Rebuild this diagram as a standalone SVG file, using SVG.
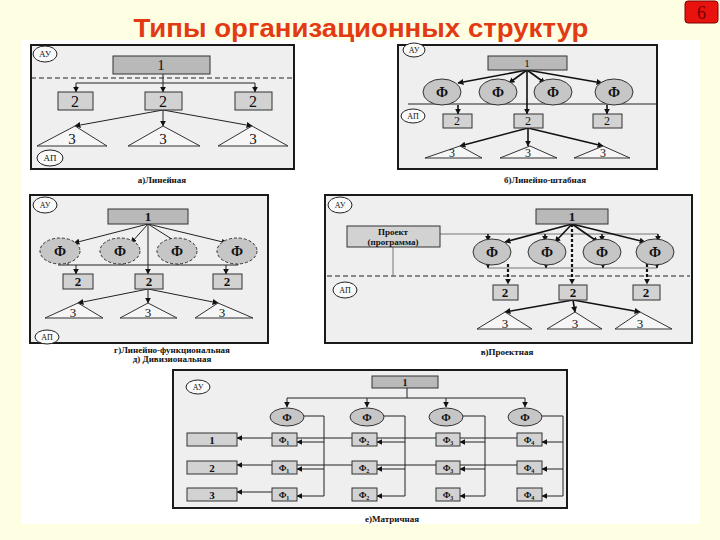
<svg xmlns="http://www.w3.org/2000/svg" width="720" height="540" viewBox="0 0 720 540">
<style>
.panel{fill:#efefef;stroke:#1a1a1a;stroke-width:2}
.b1{fill:#b9b9b9;stroke:#333;stroke-width:1}
.b2{fill:#d2d2d2;stroke:#333;stroke-width:1}
.tri{fill:#f6f6f6;stroke:#333;stroke-width:1}
.circ{fill:#c6c6c6;stroke:#333;stroke-width:1}
.circd{fill:#c6c6c6;stroke:#333;stroke-width:1;stroke-dasharray:3 2}
.zone{fill:#fafafa;stroke:#222;stroke-width:1}
.t{font-family:"Liberation Serif","DejaVu Serif",serif;text-anchor:middle;fill:#111}
.tb{font-family:"Liberation Serif","DejaVu Serif",serif;text-anchor:middle;fill:#111;font-weight:bold}
.cap{font-family:"Liberation Serif","DejaVu Serif",serif;text-anchor:middle;fill:#111;font-weight:bold;font-size:9px}
.e{stroke:#222;stroke-width:1;fill:none}
.ea{stroke:#222;stroke-width:1;fill:none;marker-end:url(#arr)}
.eb{stroke:#111;stroke-width:1.6;fill:none;marker-end:url(#arr)}
.ed{stroke:#111;stroke-width:2.2;fill:none;stroke-dasharray:3 2;marker-end:url(#arr)}
.dash{stroke:#222;stroke-width:1;fill:none;stroke-dasharray:5 3}
.g{stroke:#777;stroke-width:1;fill:none}
</style>
<defs>
<marker id="arr" viewBox="0 0 10 10" refX="9" refY="5" markerWidth="6" markerHeight="6" markerUnits="userSpaceOnUse" orient="auto">
<path d="M0,0 L10,5 L0,10 z" fill="#111"/>
</marker>
</defs>
<rect x="0" y="0" width="720" height="540" fill="#fefee3"/>
<rect x="22" y="40" width="678" height="484" fill="#ffffff"/>
<text x="361" y="37" font-family="'Liberation Sans',Arial,sans-serif" font-weight="bold" font-size="26" fill="#e23a12" text-anchor="middle" textLength="455" lengthAdjust="spacingAndGlyphs">Типы организационных структур</text>
<g id="page-number">
<rect x="685" y="1" width="33" height="22" rx="3" fill="#e8120f" stroke="#7a0000" stroke-width="1"/>
<text x="701.5" y="19" font-family="'Liberation Serif',serif" font-size="18" fill="#7a0000" text-anchor="middle">6</text>
</g>
<g id="panels">
<rect class="panel" x="31" y="45" width="263" height="124"/>
<rect class="panel" x="398" y="45" width="259" height="124"/>
<rect class="panel" x="30" y="195" width="238" height="148"/>
<rect class="panel" x="325" y="195" width="367" height="148"/>
<rect class="panel" x="173" y="370" width="394" height="138"/>
</g>
<g id="captions">
<text class="cap" x="162" y="183">а)Линейная</text>
<text class="cap" x="545" y="183">б)Линейно-штабная</text>
<text class="cap" x="172" y="353">г)Линейно-функциональная</text>
<text class="cap" x="172" y="362">д) Дивизиональная</text>
<text class="cap" x="507" y="355">в)Проектная</text>
<text class="cap" x="392" y="522">е)Матричная</text>
</g>
<g id="connectors">
<!-- panel a -->
<line class="dash" x1="31" y1="78" x2="294" y2="78"/>
<line class="ea" x1="163" y1="74" x2="163" y2="92"/>
<polyline class="e" points="76,91 76,83 255,83 255,91"/>
<line class="ea" x1="76" y1="86" x2="76" y2="92"/>
<line class="ea" x1="255" y1="86" x2="255" y2="92"/>
<line class="ea" x1="163" y1="110" x2="75" y2="126"/>
<line class="ea" x1="163" y1="110" x2="163" y2="126"/>
<line class="ea" x1="163" y1="110" x2="252" y2="126"/>
<!-- panel b -->
<line class="e" x1="408" y1="104" x2="657" y2="104" stroke-width="1.3"/>
<line class="eb" x1="527" y1="70" x2="458" y2="83"/>
<line class="eb" x1="527" y1="70" x2="509" y2="83"/>
<line class="eb" x1="527" y1="70" x2="545" y2="83"/>
<line class="eb" x1="527" y1="70" x2="602" y2="83"/>
<line class="eb" x1="527" y1="70" x2="527" y2="114"/>
<line class="eb" x1="458" y1="105" x2="458" y2="114"/>
<line class="eb" x1="607" y1="105" x2="607" y2="114"/>
<line class="eb" x1="528" y1="128" x2="460" y2="146"/>
<line class="eb" x1="528" y1="128" x2="528" y2="146"/>
<line class="eb" x1="528" y1="128" x2="603" y2="146"/>
<!-- panel g/d -->
<line class="ea" x1="148" y1="224" x2="74" y2="243"/>
<line class="ea" x1="148" y1="224" x2="131" y2="243"/>
<line class="ea" x1="148" y1="224" x2="178" y2="243"/>
<line class="ea" x1="148" y1="224" x2="227" y2="243"/>
<line class="ea" x1="148" y1="224" x2="148" y2="274"/>
<line class="e" x1="58" y1="265" x2="238" y2="265"/>
<line class="e" x1="68" y1="258" x2="68" y2="265"/>
<line class="e" x1="122" y1="258" x2="122" y2="265"/>
<line class="e" x1="178" y1="258" x2="178" y2="265"/>
<line class="e" x1="238" y1="258" x2="238" y2="265"/>
<line class="ea" x1="76" y1="265" x2="76" y2="274"/>
<line class="ea" x1="226" y1="265" x2="226" y2="274"/>
<line class="ea" x1="148" y1="289" x2="78" y2="303"/>
<line class="ea" x1="148" y1="289" x2="148" y2="303"/>
<line class="ea" x1="148" y1="289" x2="218" y2="303"/>
<!-- panel v project -->
<line class="dash" x1="327" y1="276" x2="690" y2="276" stroke="#555"/>
<line class="g" x1="440" y1="234" x2="658" y2="234"/>
<polyline class="g" points="393,247 393,276"/>
<line class="eb" x1="488" y1="234" x2="488" y2="241"/>
<line class="eb" x1="545" y1="234" x2="545" y2="241"/>
<line class="eb" x1="602" y1="234" x2="602" y2="241"/>
<line class="eb" x1="658" y1="234" x2="658" y2="241"/>
<line class="eb" x1="572" y1="224" x2="505" y2="242"/>
<line class="eb" x1="572" y1="224" x2="555" y2="242"/>
<line class="eb" x1="572" y1="224" x2="598" y2="242"/>
<line class="eb" x1="572" y1="224" x2="645" y2="242"/>
<line class="g" x1="488" y1="268" x2="657" y2="268"/>
<line class="ea" x1="488" y1="263" x2="488" y2="268"/>
<line class="ea" x1="546" y1="263" x2="546" y2="268"/>
<line class="ea" x1="603" y1="263" x2="603" y2="268"/>
<line class="ea" x1="657" y1="263" x2="657" y2="268"/>
<line class="ed" x1="572" y1="224" x2="572" y2="284"/>
<line class="ed" x1="508" y1="264" x2="508" y2="284"/>
<line class="ed" x1="647" y1="264" x2="647" y2="284"/>
<line class="eb" x1="573" y1="300" x2="505" y2="312"/>
<line class="eb" x1="573" y1="300" x2="575" y2="312"/>
<line class="eb" x1="573" y1="300" x2="640" y2="312"/>
<!-- panel e matrix -->
<line class="e" x1="407" y1="388" x2="407" y2="398"/>
<line class="e" x1="287" y1="398" x2="525" y2="398"/>
<line class="ea" x1="287" y1="398" x2="287" y2="407"/>
<line class="ea" x1="367" y1="398" x2="367" y2="407"/>
<line class="ea" x1="446" y1="398" x2="446" y2="407"/>
<line class="ea" x1="525" y1="398" x2="525" y2="407"/>
<line class="ea" x1="517" y1="438" x2="237" y2="438"/>
<line class="ea" x1="517" y1="465" x2="237" y2="465"/>
<line class="ea" x1="272" y1="492" x2="237" y2="492"/>
<polyline class="e" points="304,416 324,416 324,496"/>
<polyline class="e" points="384,416 405,416 405,496"/>
<polyline class="e" points="463,416 485,416 485,496"/>
<polyline class="e" points="542,416 563,416 563,496"/>
<line class="ea" x1="324" y1="442" x2="297" y2="442"/>
<line class="ea" x1="324" y1="469" x2="297" y2="469"/>
<line class="ea" x1="324" y1="496" x2="297" y2="496"/>
<line class="ea" x1="405" y1="442" x2="377" y2="442"/>
<line class="ea" x1="405" y1="469" x2="377" y2="469"/>
<line class="ea" x1="405" y1="496" x2="377" y2="496"/>
<line class="ea" x1="485" y1="442" x2="460" y2="442"/>
<line class="ea" x1="485" y1="469" x2="460" y2="469"/>
<line class="ea" x1="485" y1="496" x2="460" y2="496"/>
<line class="ea" x1="563" y1="442" x2="542" y2="442"/>
<line class="ea" x1="563" y1="469" x2="542" y2="469"/>
<line class="ea" x1="563" y1="496" x2="542" y2="496"/>
</g>
<!-- panel a nodes -->
<g id="a-au"><ellipse class="zone" cx="45" cy="54" rx="12" ry="8"/><text class="t" x="45" y="57" font-size="9">АУ</text></g>
<g id="a-1"><rect class="b1" x="113" y="56" width="97" height="18"/><text class="t" x="161" y="70" font-size="15">1</text></g>
<g id="a-2l"><rect class="b2" x="58" y="92" width="35" height="18"/><text class="t" x="75" y="107" font-size="16">2</text></g>
<g id="a-2m"><rect class="b2" x="145" y="92" width="37" height="18"/><text class="t" x="163" y="107" font-size="16">2</text></g>
<g id="a-2r"><rect class="b2" x="235" y="92" width="37" height="18"/><text class="t" x="253" y="107" font-size="16">2</text></g>
<g id="a-3l"><polygon class="tri" points="37,146 75,126 107,146"/><text class="t" x="72" y="144" font-size="15">3</text></g>
<g id="a-3m"><polygon class="tri" points="128,146 163,126 200,146"/><text class="t" x="163" y="144" font-size="15">3</text></g>
<g id="a-3r"><polygon class="tri" points="218,146 252,126 288,146"/><text class="t" x="253" y="144" font-size="15">3</text></g>
<g id="a-ap"><ellipse class="zone" cx="50" cy="158" rx="13" ry="8"/><text class="t" x="50" y="161" font-size="9">АП</text></g>
<!-- panel b nodes -->
<g id="b-au"><ellipse class="zone" cx="414" cy="50" rx="11" ry="7"/><text class="t" x="414" y="53" font-size="8">АУ</text></g>
<g id="b-1"><rect class="b1" x="488" y="56" width="79" height="14"/><text class="t" x="527" y="67" font-size="11">1</text></g>
<g id="b-f1"><ellipse class="circ" cx="442" cy="92" rx="19" ry="13"/><text class="tb" x="442" y="97" font-size="14">Ф</text></g>
<g id="b-f2"><ellipse class="circ" cx="498" cy="92" rx="19" ry="13"/><text class="tb" x="498" y="97" font-size="14">Ф</text></g>
<g id="b-f3"><ellipse class="circ" cx="553" cy="92" rx="19" ry="13"/><text class="tb" x="553" y="97" font-size="14">Ф</text></g>
<g id="b-f4"><ellipse class="circ" cx="614" cy="92" rx="19" ry="13"/><text class="tb" x="614" y="97" font-size="14">Ф</text></g>
<g id="b-ap"><ellipse class="zone" cx="413" cy="116" rx="12" ry="7"/><text class="t" x="413" y="119" font-size="8">АП</text></g>
<g id="b-2l"><rect class="b2" x="443" y="114" width="29" height="14"/><text class="t" x="457" y="125" font-size="12">2</text></g>
<g id="b-2m"><rect class="b2" x="514" y="114" width="29" height="14"/><text class="t" x="528" y="125" font-size="12">2</text></g>
<g id="b-2r"><rect class="b2" x="593" y="114" width="29" height="14"/><text class="t" x="607" y="125" font-size="12">2</text></g>
<g id="b-3l"><polygon class="tri" points="425,158 460,146 482,158"/><text class="t" x="452" y="157" font-size="12">3</text></g>
<g id="b-3m"><polygon class="tri" points="500,158 530,146 557,158"/><text class="t" x="528" y="157" font-size="12">3</text></g>
<g id="b-3r"><polygon class="tri" points="574,158 603,146 630,158"/><text class="t" x="603" y="157" font-size="12">3</text></g>
<!-- panel g/d nodes -->
<g id="g-au"><ellipse class="zone" cx="45" cy="205" rx="12" ry="8"/><text class="t" x="45" y="208" font-size="8">АУ</text></g>
<g id="g-1"><rect class="b1" x="108" y="209" width="80" height="15"/><text class="tb" x="148" y="221" font-size="13">1</text></g>
<g id="g-f1"><ellipse class="circd" cx="60" cy="251" rx="20" ry="13"/><text class="tb" x="60" y="256" font-size="14">Ф</text></g>
<g id="g-f2"><ellipse class="circd" cx="120" cy="251" rx="20" ry="13"/><text class="tb" x="120" y="256" font-size="14">Ф</text></g>
<g id="g-f3"><ellipse class="circd" cx="177" cy="251" rx="20" ry="13"/><text class="tb" x="177" y="256" font-size="14">Ф</text></g>
<g id="g-f4"><ellipse class="circd" cx="237" cy="251" rx="20" ry="13"/><text class="tb" x="237" y="256" font-size="14">Ф</text></g>
<g id="g-2l"><rect class="b2" x="63" y="274" width="30" height="15"/><text class="tb" x="78" y="286" font-size="13">2</text></g>
<g id="g-2m"><rect class="b2" x="135" y="274" width="28" height="15"/><text class="tb" x="149" y="286" font-size="13">2</text></g>
<g id="g-2r"><rect class="b2" x="213" y="274" width="29" height="15"/><text class="tb" x="227" y="286" font-size="13">2</text></g>
<g id="g-3l"><polygon class="tri" points="45,318 78,303 103,318"/><text class="t" x="73" y="317" font-size="13">3</text></g>
<g id="g-3m"><polygon class="tri" points="120,318 148,303 177,318"/><text class="t" x="148" y="317" font-size="13">3</text></g>
<g id="g-3r"><polygon class="tri" points="195,318 218,303 253,318"/><text class="t" x="222" y="317" font-size="13">3</text></g>
<g id="g-ap"><ellipse class="zone" cx="47" cy="337" rx="12" ry="7"/><text class="t" x="47" y="340" font-size="8">АП</text></g>
<!-- panel v project nodes -->
<g id="v-au"><ellipse class="zone" cx="340" cy="205" rx="12" ry="8"/><text class="t" x="340" y="208" font-size="8">АУ</text></g>
<g id="v-1"><rect class="b1" x="536" y="209" width="72" height="15"/><text class="tb" x="572" y="221" font-size="13">1</text></g>
<g id="v-project"><rect class="b2" x="347" y="226" width="93" height="21"/><text class="tb" x="393" y="235" font-size="9">Проект</text><text class="tb" x="393" y="245" font-size="9">(программа)</text></g>
<g id="v-f1"><ellipse class="circ" cx="492" cy="252" rx="19" ry="13"/><text class="tb" x="492" y="257" font-size="14">Ф</text></g>
<g id="v-f2"><ellipse class="circ" cx="547" cy="252" rx="19" ry="13"/><text class="tb" x="547" y="257" font-size="14">Ф</text></g>
<g id="v-f3"><ellipse class="circ" cx="602" cy="252" rx="19" ry="13"/><text class="tb" x="602" y="257" font-size="14">Ф</text></g>
<g id="v-f4"><ellipse class="circ" cx="655" cy="252" rx="19" ry="13"/><text class="tb" x="655" y="257" font-size="14">Ф</text></g>
<g id="v-ap"><ellipse class="zone" cx="345" cy="290" rx="12" ry="8"/><text class="t" x="345" y="293" font-size="8">АП</text></g>
<g id="v-2l"><rect class="b2" x="493" y="285" width="25" height="15"/><text class="tb" x="505" y="297" font-size="13">2</text></g>
<g id="v-2m"><rect class="b2" x="559" y="285" width="28" height="15"/><text class="tb" x="573" y="297" font-size="13">2</text></g>
<g id="v-2r"><rect class="b2" x="633" y="285" width="27" height="15"/><text class="tb" x="646" y="297" font-size="13">2</text></g>
<g id="v-3l"><polygon class="tri" points="477,329 505,312 532,329"/><text class="t" x="505" y="328" font-size="13">3</text></g>
<g id="v-3m"><polygon class="tri" points="547,329 575,312 602,329"/><text class="t" x="575" y="328" font-size="13">3</text></g>
<g id="v-3r"><polygon class="tri" points="615,329 640,312 672,329"/><text class="t" x="640" y="328" font-size="13">3</text></g>
<!-- panel e matrix nodes -->
<g id="e-au"><ellipse class="zone" cx="198" cy="387" rx="12" ry="7"/><text class="t" x="198" y="390" font-size="8">АУ</text></g>
<g id="e-1"><rect class="b1" x="372" y="376" width="66" height="12"/><text class="tb" x="405" y="386" font-size="10">1</text></g>
<g id="e-f1"><ellipse class="circ" cx="287" cy="417" rx="17" ry="9"/><text class="tb" x="287" y="421" font-size="11">Ф</text></g>
<g id="e-f2"><ellipse class="circ" cx="367" cy="417" rx="17" ry="9"/><text class="tb" x="367" y="421" font-size="11">Ф</text></g>
<g id="e-f3"><ellipse class="circ" cx="446" cy="417" rx="17" ry="9"/><text class="tb" x="446" y="421" font-size="11">Ф</text></g>
<g id="e-f4"><ellipse class="circ" cx="525" cy="417" rx="17" ry="9"/><text class="tb" x="525" y="421" font-size="11">Ф</text></g>
<g id="e-r1"><rect class="b2" x="187" y="433" width="50" height="13"/><text class="tb" x="212" y="444" font-size="11">1</text></g>
<g id="e-r2"><rect class="b2" x="187" y="461" width="50" height="13"/><text class="tb" x="212" y="472" font-size="11">2</text></g>
<g id="e-r3"><rect class="b2" x="187" y="488" width="50" height="13"/><text class="tb" x="212" y="499" font-size="11">3</text></g>
<g id="e-c1r1"><rect class="b2" x="272" y="433" width="25" height="13"/><text class="tb" x="284" y="443" font-size="9">Ф<tspan font-size="6" dy="2">1</tspan></text></g>
<g id="e-c1r2"><rect class="b2" x="272" y="461" width="25" height="13"/><text class="tb" x="284" y="471" font-size="9">Ф<tspan font-size="6" dy="2">1</tspan></text></g>
<g id="e-c1r3"><rect class="b2" x="272" y="488" width="25" height="13"/><text class="tb" x="284" y="498" font-size="9">Ф<tspan font-size="6" dy="2">1</tspan></text></g>
<g id="e-c2r1"><rect class="b2" x="352" y="433" width="25" height="13"/><text class="tb" x="364" y="443" font-size="9">Ф<tspan font-size="6" dy="2">2</tspan></text></g>
<g id="e-c2r2"><rect class="b2" x="352" y="461" width="25" height="13"/><text class="tb" x="364" y="471" font-size="9">Ф<tspan font-size="6" dy="2">2</tspan></text></g>
<g id="e-c2r3"><rect class="b2" x="352" y="488" width="25" height="13"/><text class="tb" x="364" y="498" font-size="9">Ф<tspan font-size="6" dy="2">2</tspan></text></g>
<g id="e-c3r1"><rect class="b2" x="436" y="433" width="24" height="13"/><text class="tb" x="448" y="443" font-size="9">Ф<tspan font-size="6" dy="2">3</tspan></text></g>
<g id="e-c3r2"><rect class="b2" x="436" y="461" width="24" height="13"/><text class="tb" x="448" y="471" font-size="9">Ф<tspan font-size="6" dy="2">3</tspan></text></g>
<g id="e-c3r3"><rect class="b2" x="436" y="488" width="24" height="13"/><text class="tb" x="448" y="498" font-size="9">Ф<tspan font-size="6" dy="2">3</tspan></text></g>
<g id="e-c4r1"><rect class="b2" x="517" y="433" width="25" height="13"/><text class="tb" x="529" y="443" font-size="9">Ф<tspan font-size="6" dy="2">4</tspan></text></g>
<g id="e-c4r2"><rect class="b2" x="517" y="461" width="25" height="13"/><text class="tb" x="529" y="471" font-size="9">Ф<tspan font-size="6" dy="2">4</tspan></text></g>
<g id="e-c4r3"><rect class="b2" x="517" y="488" width="25" height="13"/><text class="tb" x="529" y="498" font-size="9">Ф<tspan font-size="6" dy="2">4</tspan></text></g>
</svg>
